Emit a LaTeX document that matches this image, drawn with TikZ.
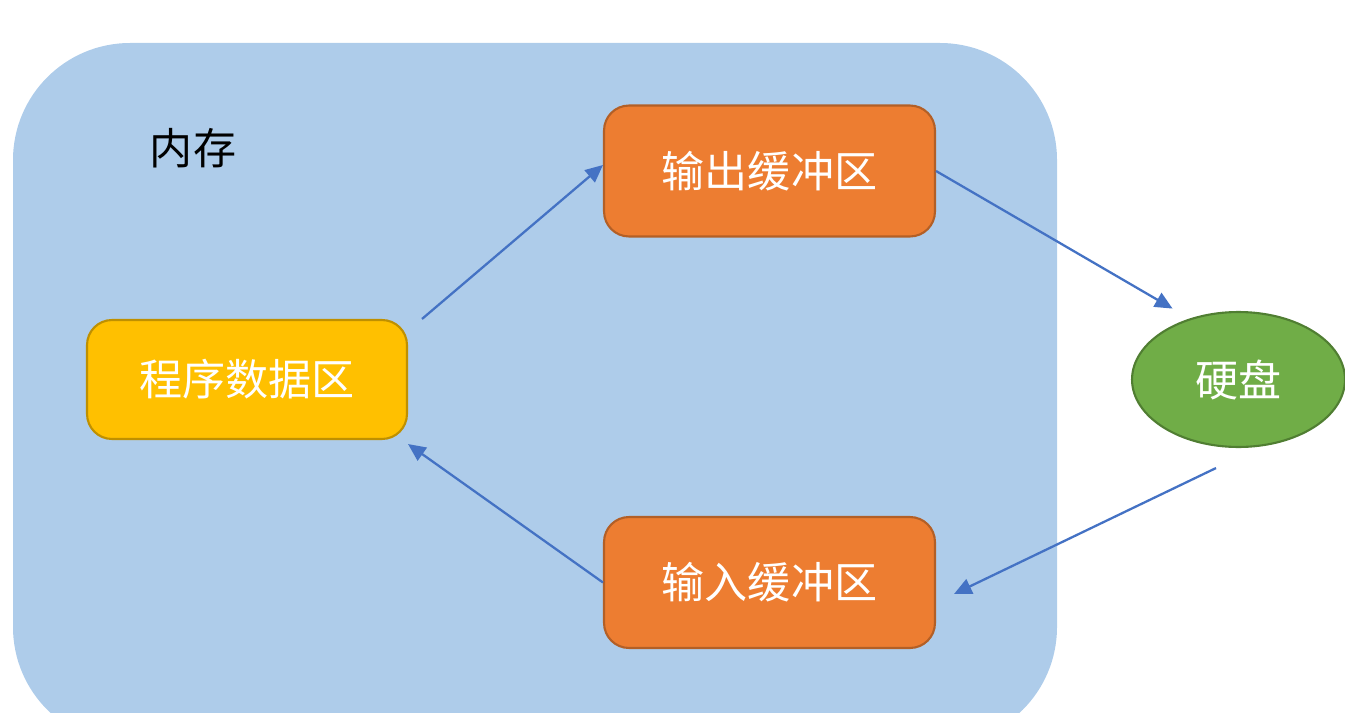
\documentclass[tikz,border=0pt]{standalone}
\usepackage{fontspec}
\newfontfamily\cjk{Noto Sans CJK SC}
\usetikzlibrary{shapes.geometric,arrows.meta}
\definecolor{membg}{HTML}{AECCEA}
\definecolor{orangefill}{HTML}{ED7D31}
\definecolor{orangeline}{HTML}{B35F26}
\definecolor{yellowfill}{HTML}{FFC000}
\definecolor{yellowline}{HTML}{BF9000}
\definecolor{greenfill}{HTML}{70AD47}
\definecolor{greenline}{HTML}{507E32}
\definecolor{arrowblue}{HTML}{4472C4}
\tikzset{
  boxtext/.style={font=\cjk\fontsize{24.5}{29}\selectfont},
  bufbox/.style={boxtext, draw=orangeline, fill=orangefill, text=white, line width=1.2pt,
    rounded corners=0.5cm, minimum width=6.62cm, minimum height=2.62cm, inner sep=0pt},
  progbox/.style={boxtext, draw=yellowline, fill=yellowfill, text=white, line width=1.2pt,
    rounded corners=0.5cm, minimum width=6.4cm, minimum height=2.38cm, inner sep=0pt},
  diskshape/.style={boxtext, ellipse, draw=greenline, fill=greenfill, text=white, line width=1.2pt,
    minimum width=4.26cm, minimum height=2.7cm, inner sep=0pt},
  flow/.style={draw=arrowblue, line width=1.3pt, -{Triangle[length=10pt,width=9pt]}}
}
\begin{document}
\begin{tikzpicture}[x=0.02cm, y=-0.02cm]
\useasboundingbox (0,0) rectangle (1345,713);
\begin{scope}
  \clip (0,0) rectangle (1345,713);
  \fill[membg, rounded corners=2.34cm] (13,43) rectangle (1057,744);
\end{scope}
\node[boxtext, text=black, anchor=center] (mem) at (193,148) {内存};
\node[progbox] (prog) at (247,379.5) {程序数据区};
\node[bufbox] (out) at (769.5,171) {输出缓冲区};
\node[bufbox] (in) at (769.5,582.5) {输入缓冲区};
\node[diskshape] (disk) at (1238.5,379.5) {硬盘};
\draw[flow] ([xshift=0.28cm]prog.north east) -- ([yshift=0.12cm]out.west);
\draw[flow] (out.east) -- ([xshift=-0.22cm,yshift=0.24cm]disk.133);
\draw[flow] ([xshift=-0.45cm,yshift=-0.4cm]disk.south) -- ([xshift=0.36cm,yshift=-0.23cm]in.east);
\draw[flow] (in.west) -- ([yshift=-0.08cm]prog.south east);
\end{tikzpicture}
\end{document}
